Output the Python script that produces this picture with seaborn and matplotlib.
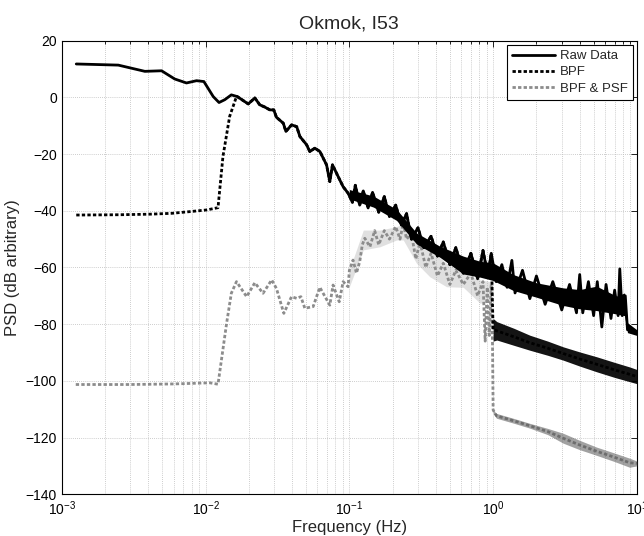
import numpy as np
import pandas as pd
import matplotlib
matplotlib.use("Agg")
import matplotlib.pyplot as plt
import seaborn as sns
from matplotlib.ticker import LogLocator, FixedLocator

# ---------------- data ----------------
# Raw Data: clean low-frequency part + noisy high-frequency zigzag
raw_f = [0.00126, 0.00247, 0.00378, 0.00494, 0.0061, 0.00736, 0.00865, 0.00973,
         0.0113, 0.0124, 0.0136, 0.0151, 0.0166, 0.0198, 0.022, 0.0238, 0.0258,
         0.028, 0.0298, 0.0311, 0.0347, 0.0362, 0.0396, 0.043, 0.0453, 0.0504,
         0.0531, 0.0575, 0.0624, 0.0694, 0.0731, 0.0763, 0.0835, 0.0905, 0.098,
         0.105, 0.11, 0.118, 0.125, 0.135, 0.145, 0.16, 0.175, 0.19, 0.21, 0.23,
         0.25, 0.27, 0.3, 0.33, 0.37, 0.41, 0.45, 0.5, 0.55, 0.62, 0.7, 0.78,
         0.85, 0.92, 0.97, 1.05, 1.15, 1.25, 1.35, 1.42, 1.6, 1.8, 2.0, 2.3, 2.6,
         3.0, 3.4, 3.8, 4.0, 4.2, 4.6, 5.0, 5.3, 5.7, 6.1, 6.6, 7.0, 7.4, 7.6,
         7.9, 8.3, 8.6, 9.0, 9.5, 10.0]
raw_db = [11.8, 11.4, 9.2, 9.4, 6.5, 5.1, 5.9, 5.6,
          0.3, -1.8, -0.8, 0.9, 0.3, -2.3, -0.2, -2.6, -3.4,
          -4.4, -4.4, -7.0, -9.1, -12.0, -9.7, -10.3, -13.8, -16.7,
          -19.1, -17.9, -19.1, -23.8, -29.7, -23.8, -27.9, -31.5, -33.8,
          -37, -31, -38, -33, -39, -33.5, -40.5, -35, -42, -38, -45,
          -41, -50, -46, -53, -49, -56, -51, -59, -53, -62, -55, -64,
          -54, -63, -55, -65, -59, -67, -57.5, -69, -61, -71, -63, -73, -65,
          -75, -66, -76, -62.5, -76, -65, -77, -65, -81, -66, -78, -68, -77, -60.5,
          -77, -70, -82, -81, -83, -83]
raw_band_f = [0.1, 0.147, 0.213, 0.293, 0.426, 0.62, 0.81, 1.0, 1.38, 2.0,
              3.07, 4.0, 5.24, 7.2, 8.2, 8.6, 10.0]
raw_band_hi = [-32.5, -34.8, -39.5, -47.8, -52.5, -56.0, -57.8, -58.4, -62.5,
               -65.4, -67.2, -67.8, -66.6, -70.1, -69.0, -79.5, -82.0]
raw_band_lo = [-35.8, -38.7, -43.4, -51.7, -56.4, -62.3, -63.4, -64.6, -68.1,
               -70.5, -73.4, -74.6, -75.2, -76.4, -77.0, -83.0, -84.0]

# BPF: flat, steep rise, then overlaps raw data until 1 Hz, then drops
bpf_low_f = [0.00126, 0.0025, 0.0041, 0.0058, 0.00776, 0.0102, 0.0122, 0.0132, 0.0147, 0.0164]
bpf_low_db = [-41.5, -41.4, -41.2, -40.9, -40.3, -39.7, -38.9, -20.9, -6.7, 0.3]
bpf_hf_f = [1.0, 1.06, 1.4, 1.8, 2.4, 3.07, 4.0, 5.24, 7.0, 8.9, 10.0]
bpf_hf_hi = [-78.0, -79.1, -81.5, -83.9, -86.0, -88.0, -89.8, -91.5, -93.5, -95.1, -96.0]
bpf_hf_lo = [-86.0, -85.6, -87.5, -89.2, -91.0, -92.7, -94.8, -96.8, -98.8, -100.3, -101.0]

# BPF & PSF
psf_f = [0.00125, 0.003, 0.006, 0.0107, 0.0122, 0.014, 0.0151, 0.0164, 0.0193,
         0.022, 0.0251, 0.0288, 0.0311, 0.035, 0.0396, 0.043, 0.046, 0.049, 0.056,
         0.0623, 0.0731, 0.077, 0.085, 0.0905, 0.098,
         0.1, 0.106, 0.112, 0.118, 0.123, 0.128, 0.139, 0.15, 0.16, 0.175, 0.19,
         0.21, 0.225, 0.237, 0.25, 0.27, 0.29, 0.31, 0.34, 0.37, 0.41, 0.45, 0.5,
         0.55, 0.62, 0.7, 0.78, 0.85, 0.88, 0.91, 0.94, 0.97, 0.99, 1.0]
psf_db = [-101.3, -101.3, -101.1, -100.7, -101.2, -79.7, -69.1, -65.0, -70.3,
          -65.4, -69.1, -64.4, -67.4, -76.2, -70.3, -70.9, -70.3, -74.4, -73.8,
          -67.0, -73.3, -66.2, -72.1, -65.0, -66.8,
          -61, -57.4, -62, -58, -52, -49.7, -52.7, -47, -52, -47, -50,
          -45.6, -50, -44.4, -50, -48, -57, -51, -60, -55, -63, -58.5, -66,
          -61, -66, -62, -70, -65, -86, -67, -84, -66, -87, -110.3]
psf_band_f = [0.1, 0.125, 0.163, 0.213, 0.237, 0.293, 0.363, 0.474, 0.62, 0.81, 0.97]
psf_band_hi = [-60.9, -46.8, -46.8, -45.6, -44.4, -49.1, -53.8, -58.5, -62.0, -64.4, -65.0]
psf_band_lo = [-66.8, -53.8, -52.7, -50.3, -50.3, -58.5, -63.3, -66.8, -67.0, -72.6, -72.0]
psf_hf_f = [1.0, 1.055, 1.4, 1.8, 2.4, 3.07, 4.0, 5.25, 7.0, 8.9, 10.0]
psf_hf_hi = [-110.3, -111.5, -113.3, -115.0, -116.8, -118.5, -121.0, -123.4, -125.5, -127.3, -128.3]
psf_hf_lo = [-111.5, -113.2, -115.0, -116.7, -119.0, -122.0, -124.3, -126.3, -128.5, -130.5, -130.0]

title = "Okmok, I53"
xlabel = "Frequency (Hz)"
ylabel = "PSD (dB arbitrary)"
labels = ["Raw Data", "BPF", "BPF & PSF"]

# ---------------- build series ----------------
raw_df = pd.DataFrame({"f": raw_f, "db": raw_db})
mid_raw = raw_df[(raw_df.f > 0.0164) & (raw_df.f < 1.0)]
bpf_hf_mid = [(a + b) / 2 for a, b in zip(bpf_hf_hi, bpf_hf_lo)]
bpf_df = pd.DataFrame({
    "f": bpf_low_f + list(mid_raw.f) + bpf_hf_f,
    "db": bpf_low_db + list(mid_raw.db) + bpf_hf_mid,
})
psf_hf_mid = [(a + b) / 2 for a, b in zip(psf_hf_hi, psf_hf_lo)]
psf_df = pd.DataFrame({
    "f": psf_f + psf_hf_f[1:],
    "db": psf_db + psf_hf_mid[1:],
})

# ---------------- plot ----------------
sns.set_style("white")
plt.rcParams["font.family"] = ["Liberation Sans", "DejaVu Sans"]
plt.rcParams["mathtext.default"] = "regular"

fig = plt.figure(figsize=(6.44, 5.36), dpi=100)
ax = fig.add_axes([0.096, 0.078, 0.893, 0.846])

gray = "#8c8c8c"

sns.lineplot(data=raw_df, x="f", y="db", ax=ax, color="black", lw=2.0,
             sort=False, estimator=None, label=labels[0], zorder=6)
ax.fill_between(raw_band_f, raw_band_lo, raw_band_hi, color="black", lw=0, zorder=6)

sns.lineplot(data=bpf_df, x="f", y="db", ax=ax, color="black", lw=2.0,
             linestyle=(0, (1.2, 0.8)), sort=False, estimator=None,
             label=labels[1], zorder=5)
ax.fill_between(bpf_hf_f, bpf_hf_lo, bpf_hf_hi, color="black", lw=0, alpha=0.92, zorder=5)

sns.lineplot(data=psf_df, x="f", y="db", ax=ax, color=gray, lw=2.0,
             linestyle=(0, (1.2, 0.8)), sort=False, estimator=None,
             label=labels[2], zorder=4)
ax.fill_between(psf_band_f, psf_band_lo, psf_band_hi, color="#9a9a9a", lw=0, alpha=0.3, zorder=3)
ax.fill_between(psf_hf_f, psf_hf_lo, psf_hf_hi, color="#555555", lw=0, alpha=0.55, zorder=4)

ax.set_xscale("log")
ax.set_xlim(1e-3, 10)
ax.set_ylim(-140, 20)
ax.yaxis.set_major_locator(FixedLocator(np.arange(-140, 21, 20)))
ax.xaxis.set_major_locator(LogLocator(base=10, numticks=10))
ax.xaxis.set_minor_locator(LogLocator(base=10, subs=np.arange(2, 10), numticks=20))

ax.grid(True, which="major", axis="both", color="#bdbdbd", linestyle=(0, (1, 1.5)), lw=0.6)
ax.grid(True, which="minor", axis="x", color="#bdbdbd", linestyle=(0, (1, 1.5)), lw=0.6)
ax.set_axisbelow(True)

ax.tick_params(which="both", direction="in", top=True, right=True,
               labelsize=10, colors="black", width=0.6)
ax.tick_params(which="major", length=4)
ax.tick_params(which="minor", length=2)
for s in ax.spines.values():
    s.set_color("black")
    s.set_linewidth(0.8)

ax.set_title(title, fontsize=14, pad=9)
ax.set_xlabel(xlabel, fontsize=12, labelpad=2)
ax.set_ylabel(ylabel, fontsize=12, labelpad=4)

leg = ax.legend(loc="upper right", fontsize=9.5, frameon=True, fancybox=False,
                edgecolor="black", framealpha=1, borderaxespad=0.3,
                handlelength=3.2, handletextpad=0.4, labelspacing=0.3)
leg.get_frame().set_linewidth(0.8)
leg.set_zorder(10)

fig.savefig("out.png", dpi=100)
